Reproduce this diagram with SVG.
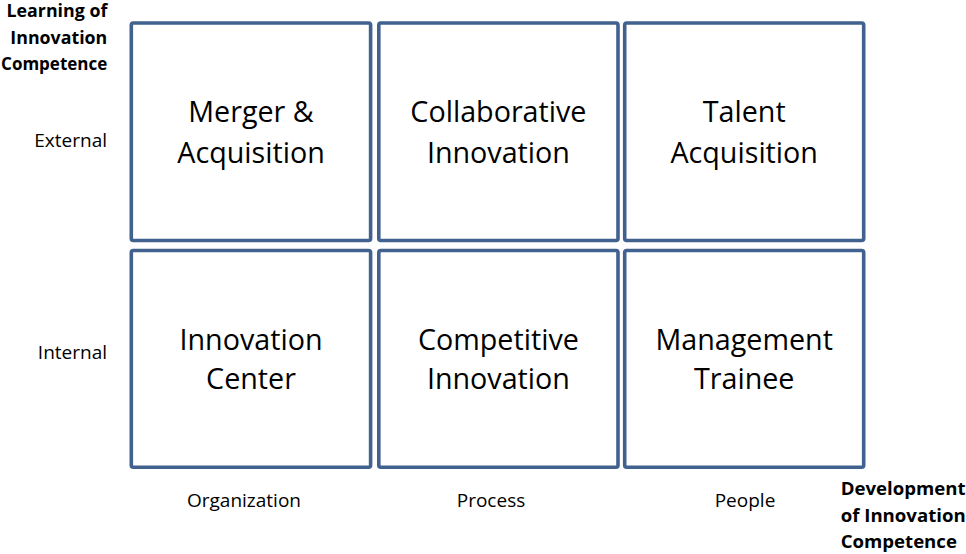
<svg xmlns="http://www.w3.org/2000/svg" width="966" height="554" viewBox="0 0 966 554">
<style>
.box{fill:#ffffff;stroke:#41628e;stroke-width:3.6}
.lbl{font-family:"Open Sans","Liberation Sans",sans-serif;font-size:28.7px;fill:#000;text-anchor:middle}
.ax{font-family:"Open Sans","Liberation Sans",sans-serif;font-size:19px;fill:#000}
.hd{font-family:"Open Sans","Liberation Sans",sans-serif;font-size:17.8px;font-weight:bold;fill:#000}
.hd2{font-family:"Open Sans","Liberation Sans",sans-serif;font-size:18.6px;font-weight:bold;fill:#000}
</style>
<rect width="966" height="554" fill="#ffffff"/>
<g id="merger">
<rect class="box" x="131.3" y="23" width="239.3" height="217.5" rx="2"/>
<text class="lbl" x="251" y="122.3">Merger &amp;</text>
<text class="lbl" x="251" y="162.7">Acquisition</text>
</g>
<g id="collab">
<rect class="box" x="378.8" y="23" width="239.2" height="217.5" rx="2"/>
<text class="lbl" x="498.4" y="122.3">Collaborative</text>
<text class="lbl" x="498.4" y="162.7">Innovation</text>
</g>
<g id="talent">
<rect class="box" x="624.7" y="23" width="239" height="217.5" rx="2"/>
<text class="lbl" x="744.2" y="122.3">Talent</text>
<text class="lbl" x="744.2" y="162.7">Acquisition</text>
</g>
<g id="center">
<rect class="box" x="131.3" y="250.5" width="239.3" height="216.8" rx="2"/>
<text class="lbl" x="251" y="350">Innovation</text>
<text class="lbl" x="251" y="389.3">Center</text>
</g>
<g id="competitive">
<rect class="box" x="378.8" y="250.5" width="239.2" height="216.8" rx="2"/>
<text class="lbl" x="498.4" y="350">Competitive</text>
<text class="lbl" x="498.4" y="389.3">Innovation</text>
</g>
<g id="trainee">
<rect class="box" x="624.7" y="250.5" width="239" height="216.8" rx="2"/>
<text class="lbl" x="744.2" y="350">Management</text>
<text class="lbl" x="744.2" y="389.3">Trainee</text>
</g>
<g id="y-axis">
<text class="hd" x="107.3" y="17.3" text-anchor="end">Learning of</text>
<text class="hd" x="107.3" y="43.8" text-anchor="end">Innovation</text>
<text class="hd" x="107.3" y="70.3" text-anchor="end" style="font-size:17px">Competence</text>
<text class="ax" x="107" y="146.7" text-anchor="end">External</text>
<text class="ax" x="107" y="359.3" text-anchor="end">Internal</text>
</g>
<g id="x-axis">
<text class="ax" x="244" y="506.7" text-anchor="middle">Organization</text>
<text class="ax" x="491" y="506.7" text-anchor="middle">Process</text>
<text class="ax" x="745" y="506.7" text-anchor="middle">People</text>
<text class="hd2" x="840.7" y="495.3">Development</text>
<text class="hd2" x="840.7" y="521.7">of Innovation</text>
<text class="hd2" x="840.7" y="548">Competence</text>
</g>
<g id="connectors"></g>
</svg>
